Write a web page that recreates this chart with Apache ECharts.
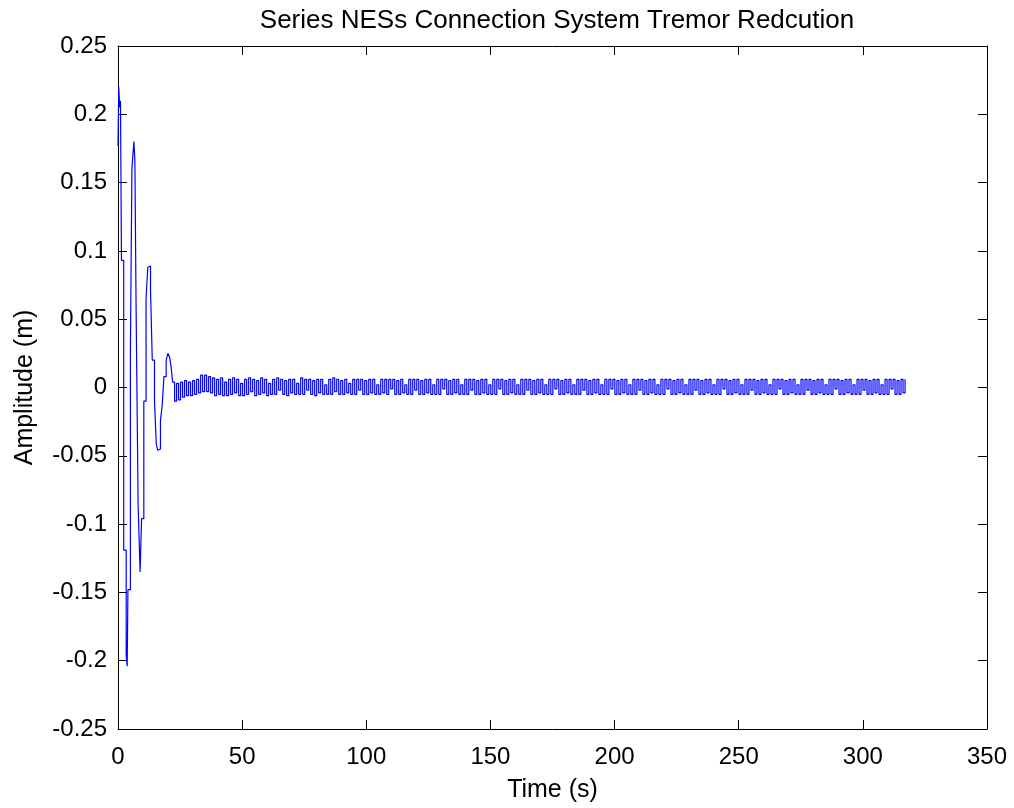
<!DOCTYPE html>
<html>
<head>
<meta charset="utf-8">
<script src="https://cdn.jsdelivr.net/npm/echarts@6/dist/echarts.min.js"></script>
<style>
  html, body { margin: 0; padding: 0; background: #fff; }
  #main { width: 1014px; height: 808px; }
</style>
</head>
<body>
<div id="main"></div>
<script>
// tick labels / axis ranges
var xTicks = [0, 50, 100, 150, 200, 250, 300, 350];
var yTicks = [-0.25, -0.2, -0.15, -0.1, -0.05, 0, 0.05, 0.1, 0.15, 0.2, 0.25];

// transient part (time s, amplitude m)
var transT = [0, 0.3, 0.7, 1.0, 1.4, 2.3, 3.3, 3.7, 4.0, 5.0, 5.6, 6.4, 6.8, 7.3, 8.1, 8.9, 9.5,
              10.4, 11.3, 12.0, 12.7, 13.1, 13.8, 14.7, 15.4, 16.0, 16.7, 17.1, 17.8, 18.5,
              19.4, 20.1, 20.8, 21.4];
var transV = [0.177, 0.22, 0.205, 0.21, 0.093, -0.119, -0.196, -0.204, -0.148, 0.027, 0.16, 0.18,
              0.166, 0.056, -0.086, -0.135, -0.096, -0.01, 0.065, 0.088, 0.089, 0.071, 0.02,
              -0.01, -0.041, -0.046, -0.045, -0.024, -0.013, 0.008, 0.02, 0.025, 0.022, 0.015];

// residual oscillation, one sample every 0.806 s from t = 22 s
var steadyStart = 22.0;
var steadyStep = 0.806;
var steadyV = [
  0.004,-0.010,0.003,-0.009,0.004,-0.007,0.005,-0.006,0.004,-0.006,
  0.005,-0.005,0.006,-0.004,0.009,-0.003,0.009,-0.003,0.008,-0.004,
  0.007,-0.006,0.006,-0.005,0.007,-0.006,0.004,-0.006,0.006,-0.005,
  0.007,-0.004,0.006,-0.006,0.003,-0.006,0.006,-0.005,0.007,-0.003,
  0.006,-0.006,0.005,-0.005,0.007,-0.004,0.006,-0.006,0.003,-0.005,
  0.006,-0.005,0.007,-0.002,0.006,-0.005,0.005,-0.006,0.006,-0.004,
  0.006,-0.005,0.003,-0.005,0.007,-0.005,0.006,-0.002,0.006,-0.005,
  0.005,-0.006,0.006,-0.004,0.006,-0.005,0.002,-0.005,0.006,-0.005,
  0.007,-0.003,0.006,-0.005,0.005,-0.005,0.006,-0.004,0.003,-0.005,
  0.006,-0.005,0.006,-0.002,0.006,-0.005,0.005,-0.005,0.006,-0.004,
  0.006,-0.005,0.002,-0.005,0.006,-0.004,0.006,-0.005,0.006,-0.001,
  0.006,-0.005,0.005,-0.005,0.006,-0.004,0.002,-0.005,0.006,-0.005,
  0.006,-0.002,0.006,-0.005,0.005,-0.005,0.006,-0.004,0.006,-0.005,
  0.002,-0.005,0.006,-0.005,0.006,-0.001,0.006,-0.005,0.005,-0.005,
  0.006,-0.004,0.006,-0.005,0.002,-0.005,0.006,-0.005,0.006,-0.002,
  0.006,-0.005,0.005,-0.005,0.006,-0.004,0.006,-0.005,0.002,-0.005,
  0.006,-0.005,0.006,-0.001,0.006,-0.005,0.005,-0.005,0.006,-0.004,
  0.006,-0.005,0.002,-0.005,0.006,-0.005,0.006,-0.002,0.006,-0.005,
  0.005,-0.005,0.006,-0.004,0.006,-0.005,0.002,-0.005,0.006,-0.005,
  0.006,-0.001,0.006,-0.005,0.005,-0.005,0.006,-0.004,0.006,-0.005,
  0.002,-0.005,0.006,-0.005,0.006,-0.002,0.006,-0.005,0.005,-0.005,
  0.006,-0.004,0.006,-0.005,0.002,-0.005,0.006,-0.005,0.006,-0.001,
  0.006,-0.005,0.005,-0.005,0.006,-0.004,0.006,-0.005,0.002,-0.005,
  0.006,-0.005,0.006,-0.002,0.006,-0.005,0.005,-0.005,0.006,-0.004,
  0.006,-0.005,0.002,-0.005,0.006,-0.005,0.006,-0.001,0.006,-0.005,
  0.005,-0.005,0.006,-0.004,0.006,-0.005,0.002,-0.005,0.006,-0.005,
  0.006,-0.002,0.006,-0.005,0.005,-0.005,0.006,-0.004,0.006,-0.005,
  0.002,-0.005,0.006,-0.005,0.006,-0.001,0.006,-0.005,0.005,-0.005,
  0.006,-0.004,0.006,-0.005,0.002,-0.005,0.006,-0.005,0.006,-0.002,
  0.006,-0.005,0.005,-0.005,0.006,-0.004,0.006,-0.005,0.002,-0.005,
  0.006,-0.005,0.006,-0.001,0.006,-0.005,0.005,-0.005,0.006,-0.004,
  0.006,-0.005,0.002,-0.005,0.006,-0.005,0.006,-0.002,0.006,-0.005,
  0.005,-0.005,0.006,-0.004,0.006,-0.005,0.002,-0.005,0.006,-0.005,
  0.006,-0.001,0.006,-0.005,0.005,-0.005,0.006,-0.004,0.006,-0.005,
  0.002,-0.005,0.006,-0.005,0.006,-0.002,0.006,-0.005,0.005,-0.005,
  0.006,-0.004,0.006,-0.005,0.002,-0.005,0.006,-0.005,0.006,-0.001,
  0.006,-0.005,0.005,-0.005,0.006,-0.004,0.006
];

var signal = [];
for (var i = 0; i < transT.length; i++) {
    signal.push([transT[i], transV[i]]);
}
for (var k = 0; k < steadyV.length; k++) {
    signal.push([+(steadyStart + k * steadyStep).toFixed(3), steadyV[k]]);
}

var font = 'Liberation Sans, Arial, sans-serif';
var axisBase = {
    axisLine: { show: true, onZero: false, lineStyle: { color: '#000', width: 1 } },
    axisTick: { show: true, inside: true, length: 9, lineStyle: { color: '#000' } },
    splitLine: { show: false }
};

var option = {
    animation: false,
    backgroundColor: '#fff',
    title: {
        text: 'Series NESs Connection System Tremor Redcution',
        left: 552,
        textAlign: 'center',
        top: 3,
        textStyle: { fontFamily: font, fontSize: 26, fontWeight: 'normal', color: '#000' }
    },
    grid: { left: 118, right: 27, top: 46, bottom: 78 },
    xAxis: [
        Object.assign({}, axisBase, {
            type: 'value', position: 'bottom',
            min: xTicks[0], max: xTicks[xTicks.length - 1], interval: 50,
            name: 'Time (s)', nameLocation: 'middle', nameGap: 49,
            nameTextStyle: { fontFamily: font, fontSize: 25, color: '#000' },
            axisLabel: { fontFamily: font, fontSize: 24, color: '#000', margin: 16 }
        }),
        Object.assign({}, axisBase, {
            type: 'value', position: 'top',
            min: xTicks[0], max: xTicks[xTicks.length - 1], interval: 50,
            axisLabel: { show: false }
        })
    ],
    yAxis: [
        Object.assign({}, axisBase, {
            type: 'value', position: 'left',
            min: yTicks[0], max: yTicks[yTicks.length - 1], interval: 0.05,
            name: 'Amplitude (m)', nameLocation: 'middle', nameGap: 80,
            nameTextStyle: { fontFamily: font, fontSize: 25, color: '#000' },
            axisLabel: { fontFamily: font, fontSize: 24, color: '#000', margin: 11 }
        }),
        Object.assign({}, axisBase, {
            type: 'value', position: 'right',
            min: yTicks[0], max: yTicks[yTicks.length - 1], interval: 0.05,
            axisLabel: { show: false }
        })
    ],
    series: [
        {
            type: 'line',
            step: 'end',
            data: signal,
            showSymbol: false,
            symbol: 'none',
            lineStyle: { color: '#0000ff', width: 1.2 },
            silent: true
        }
    ]
};

var chart = echarts.init(document.getElementById('main'));
chart.setOption(option);
</script>
</body>
</html>
